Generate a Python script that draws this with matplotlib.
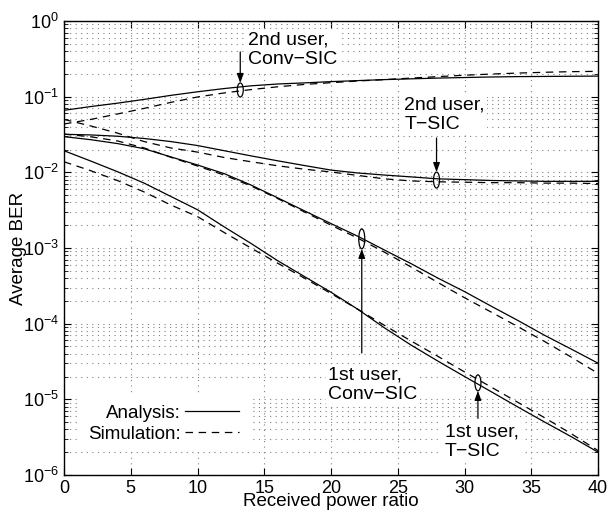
import matplotlib
matplotlib.use('Agg')
import matplotlib.pyplot as plt
from matplotlib.patches import Ellipse
from matplotlib.transforms import ScaledTranslation
from matplotlib.ticker import LogLocator, NullFormatter, MultipleLocator

plt.rcParams['font.family'] = ['Liberation Sans', 'DejaVu Sans']
plt.rcParams['mathtext.fontset'] = 'custom'
plt.rcParams['mathtext.rm'] = 'Liberation Sans'
plt.rcParams['mathtext.it'] = 'Liberation Sans:italic'
plt.rcParams['font.size'] = 13

# received power ratio (x axis)
power_ratio = [0, 2, 4, 6, 8, 10, 12, 14, 16, 18, 20, 22, 24, 26, 28, 30, 32, 34, 36, 38, 40]

# 2nd user, Conv-SIC
u2_conv_ana = [0.066, 0.074, 0.082, 0.092, 0.104, 0.116, 0.128, 0.139, 0.147, 0.152, 0.158,
               0.163, 0.168, 0.172, 0.176, 0.179, 0.182, 0.184, 0.185, 0.186, 0.187]
u2_conv_sim = [0.0435, 0.050, 0.059, 0.070, 0.084, 0.099, 0.112, 0.124, 0.135, 0.145, 0.153,
               0.161, 0.168, 0.176, 0.184, 0.192, 0.199, 0.205, 0.210, 0.214, 0.216]

# 2nd user, T-SIC
u2_tsic_ana = [0.0318, 0.0312, 0.030, 0.028, 0.0255, 0.0226, 0.0193, 0.0165, 0.0142, 0.0123, 0.0107,
               0.0098, 0.0092, 0.0087, 0.0082, 0.0080, 0.0078, 0.0077, 0.0076, 0.0076, 0.0076]
u2_tsic_sim = [0.050, 0.041, 0.033, 0.0255, 0.021, 0.0185, 0.0157, 0.0138, 0.0122, 0.0110, 0.0101,
               0.0091, 0.0082, 0.0077, 0.0075, 0.0074, 0.0073, 0.0073, 0.0072, 0.0072, 0.0071]

# 1st user, Conv-SIC
u1_conv_ana = [0.0296, 0.027, 0.024, 0.0205, 0.016, 0.0125, 0.0096, 0.0068, 0.0046, 0.0031, 0.0021,
               0.00143, 0.00094, 0.00062, 0.00040, 0.000265, 0.00017, 0.00011, 7.0e-5, 4.6e-5, 3.0e-5]
u1_conv_sim = [0.032, 0.0295, 0.026, 0.021, 0.0158, 0.0121, 0.0092, 0.0066, 0.0045, 0.0030, 0.0020,
               0.00135, 0.00088, 0.00056, 0.00035, 0.00022, 0.000142, 9.1e-5, 5.8e-5, 3.6e-5, 2.2e-5]

# 1st user, T-SIC
u1_tsic_ana = [0.0193, 0.0141, 0.0102, 0.0072, 0.0048, 0.0032, 0.0019, 0.00115, 0.00068, 0.00042, 0.00026,
               0.000155, 8.8e-5, 5.2e-5, 3.2e-5, 2.0e-5, 1.26e-5, 7.9e-6, 5.0e-6, 3.2e-6, 2.0e-6]
u1_tsic_sim = [0.0138, 0.0105, 0.0078, 0.0055, 0.0037, 0.0026, 0.0016, 0.0010, 0.00063, 0.0004, 0.00025,
               0.000155, 9.5e-5, 5.9e-5, 3.7e-5, 2.3e-5, 1.45e-5, 9.1e-6, 5.7e-6, 3.5e-6, 2.1e-6]

fig = plt.figure(figsize=(6.09, 5.12), dpi=100)
ax = fig.add_axes([0.1051, 0.0723, 0.877, 0.8867])

solid = dict(color='k', lw=0.9)
dashed = dict(color='k', lw=0.9, linestyle=(0, (6, 4.5)))

h_ana, = ax.plot(power_ratio, u2_conv_ana, **solid)
h_sim, = ax.plot(power_ratio, u2_conv_sim, **dashed)
ax.plot(power_ratio, u2_tsic_ana, **solid)
ax.plot(power_ratio, u2_tsic_sim, **dashed)
ax.plot(power_ratio, u1_conv_ana, **solid)
ax.plot(power_ratio, u1_conv_sim, **dashed)
ax.plot(power_ratio, u1_tsic_ana, **solid)
ax.plot(power_ratio, u1_tsic_sim, **dashed)

ax.set_yscale('log')
ax.set_xlim(0, 40)
ax.set_ylim(1e-6, 1)
ax.xaxis.set_major_locator(MultipleLocator(5))
ax.yaxis.set_major_locator(LogLocator(base=10, numticks=10))
ax.yaxis.set_minor_locator(LogLocator(base=10, subs=range(2, 10), numticks=20))
ax.yaxis.set_minor_formatter(NullFormatter())
ax.tick_params(which='both', direction='in', top=True, right=True, labelsize=13)
ax.tick_params(which='major', length=5, width=0.8)
ax.tick_params(which='minor', length=3, width=0.6)
for s in ax.spines.values():
    s.set_linewidth(1.0)

grid_style = dict(color='#808080', lw=0.8, linestyle=(0, (1, 4)))
ax.grid(True, which='major', **grid_style)
ax.yaxis.grid(True, which='minor', **grid_style)
ax.set_axisbelow(True)

ax.set_xlabel('Received power ratio', fontsize=13.5, labelpad=-3)
ax.set_ylabel('Average BER', fontsize=13.5, labelpad=-3)


def ring(x, y, w_px, h_px):
    tr = fig.dpi_scale_trans + ScaledTranslation(x, y, ax.transData)
    ax.add_patch(Ellipse((0, 0), w_px / 100, h_px / 100, transform=tr,
                         fill=False, ec='k', lw=0.9, clip_on=False, zorder=4))


def pointer(x, y, y_from, h_px):
    ax.annotate('', xy=(x, y), xytext=(x, y_from),
                arrowprops=dict(arrowstyle='-|>,head_length=0.55,head_width=0.2',
                                color='k', lw=0.9, shrinkA=0, shrinkB=h_px * 0.36,
                                mutation_scale=10), zorder=4)


box = dict(facecolor='white', edgecolor='none', pad=1.5)
note_size = 14

# 2nd user, Conv-SIC
ring(13.2, 0.1225, 6, 14)
pointer(13.2, 0.1225, 0.39, 14)
ax.text(13.8, 0.414, '2nd user,\nConv\u2212SIC', ha='left', va='center', bbox=box,
        fontsize=note_size, zorder=5)

# 2nd user, T-SIC
ring(27.9, 0.0079, 6, 16)
pointer(27.9, 0.0079, 0.0284, 16)
ax.text(25.5, 0.0573, '2nd user,\nT\u2212SIC', ha='left', va='center', bbox=box,
        fontsize=note_size, zorder=5)

# 1st user, Conv-SIC
ring(22.3, 1.32e-3, 6, 20)
pointer(22.3, 1.32e-3, 4.1e-5, 20)
ax.text(19.8, 1.55e-5, '1st user,\nConv\u2212SIC', ha='left', va='center', bbox=box,
        fontsize=note_size, zorder=5)

# 1st user, T-SIC
ring(31.0, 1.65e-5, 6, 16)
pointer(31.0, 1.65e-5, 5.6e-6, 16)
ax.text(28.5, 2.73e-6, '1st user,\nT\u2212SIC', ha='left', va='center', bbox=box,
        fontsize=note_size, zorder=5)

leg = ax.legend([h_ana, h_sim], ['Analysis:', 'Simulation:'], loc='lower left',
                bbox_to_anchor=(0.028, 0.05), markerfirst=False, fancybox=False,
                edgecolor='none', facecolor='white', framealpha=1, handlelength=2.9,
                handletextpad=0.2, labelspacing=0.2, borderpad=0.5, borderaxespad=0,
                fontsize=13.5)

fig.savefig('out.png', dpi=100)
